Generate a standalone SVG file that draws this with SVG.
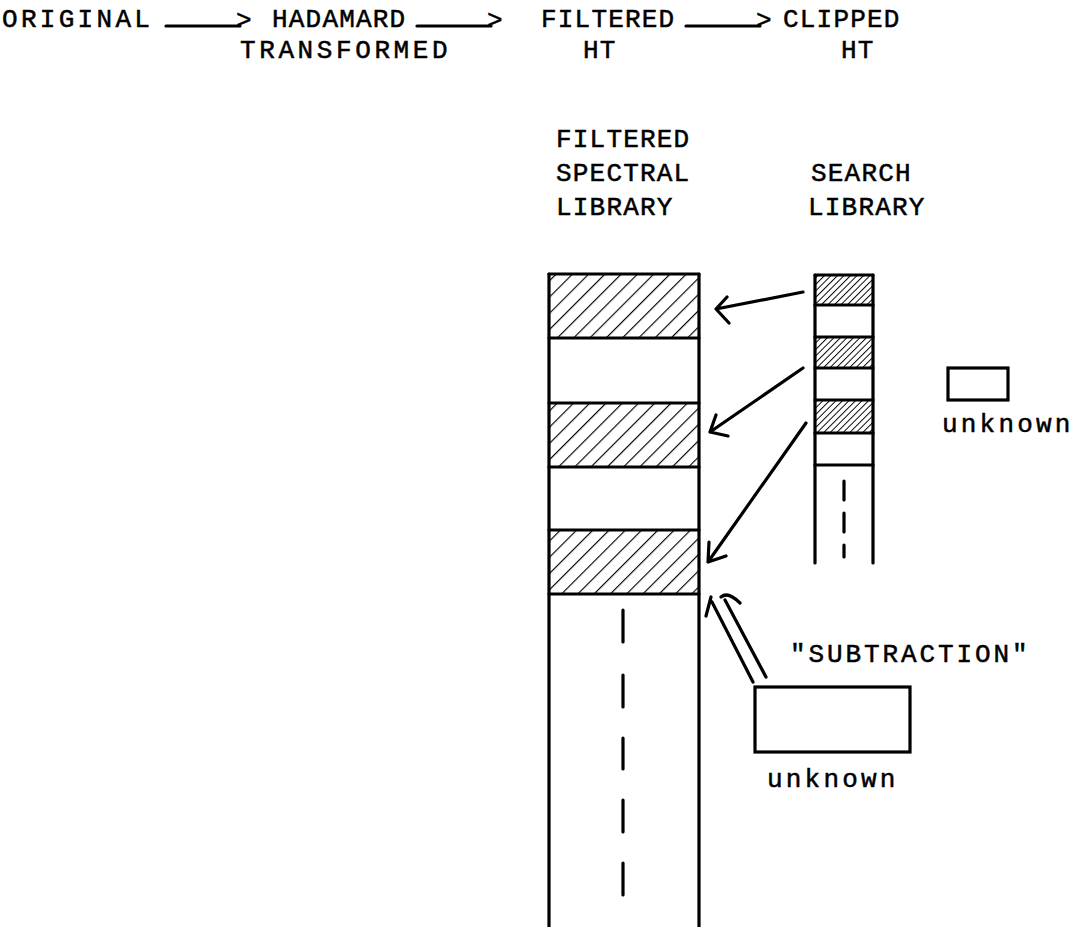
<svg xmlns="http://www.w3.org/2000/svg" width="1079" height="927" viewBox="0 0 1079 927">
<defs>
<style>
text{font-family:"Liberation Mono","DejaVu Sans Mono",monospace;font-size:26px;letter-spacing:1.2px;fill:#000;stroke:#000;stroke-width:0.5px}
.wide{letter-spacing:3.2px}
.ln{stroke:#000;stroke-width:3.2;fill:none;stroke-linecap:round;stroke-linejoin:round}
.box{stroke:#000;stroke-width:3.2;fill:#fff}
</style>
<pattern id="hatchBig" patternUnits="userSpaceOnUse" width="11.5" height="11.5" patternTransform="rotate(45)">
<line x1="0" y1="0" x2="0" y2="11.5" stroke="#000" stroke-width="2.3"/>
</pattern>
<pattern id="hatchSmall" patternUnits="userSpaceOnUse" width="4.6" height="4.6" patternTransform="rotate(45)">
<line x1="0" y1="0" x2="0" y2="4.6" stroke="#000" stroke-width="1.9"/>
</pattern>
</defs>
<rect width="1079" height="927" fill="#fff"/>

<g id="header">
<text x="2" y="27" style="letter-spacing:3.3px">ORIGINAL</text>
<text x="272" y="27">HADAMARD</text>
<text x="240" y="58" style="letter-spacing:3.6px">TRANSFORMED</text>
<text x="541" y="27">FILTERED</text>
<text x="583" y="58">HT</text>
<text x="783" y="27">CLIPPED</text>
<text x="841" y="58">HT</text>
</g>

<g id="header-arrows">
<line class="ln" x1="166" y1="26" x2="240" y2="26"/>
<text x="236" y="28">&gt;</text>
<line class="ln" x1="417" y1="26" x2="491" y2="26"/>
<text x="487" y="28">&gt;</text>
<line class="ln" x1="686" y1="26" x2="760" y2="26"/>
<text x="756" y="28">&gt;</text>
</g>

<g id="filtered-spectral-library">
<text x="556" y="147">FILTERED</text>
<text x="556" y="181">SPECTRAL</text>
<text x="556" y="215">LIBRARY</text>
<rect x="549" y="274" width="150" height="64" fill="url(#hatchBig)"/>
<rect x="549" y="403" width="150" height="64" fill="url(#hatchBig)"/>
<rect x="549" y="530" width="150" height="64" fill="url(#hatchBig)"/>
<path class="ln" d="M549,274 H699 M549,338 H699 M549,403 H699 M549,467 H699 M549,530 H699 M549,594 H699"/>
<path class="ln" d="M549,274 V927 M699,274 V927"/>
<path class="ln" d="M623,610 V642 M623,675 V707 M623,738 V769 M623,800 V832 M623,863 V895"/>
</g>

<g id="search-library">
<text x="811" y="181">SEARCH</text>
<text x="808" y="215">LIBRARY</text>
<rect x="815" y="275" width="58" height="30" fill="url(#hatchSmall)"/>
<rect x="815" y="337" width="58" height="31" fill="url(#hatchSmall)"/>
<rect x="815" y="400" width="58" height="33" fill="url(#hatchSmall)"/>
<path class="ln" d="M815,275 H873 M815,305 H873 M815,337 H873 M815,368 H873 M815,400 H873 M815,433 H873 M815,465 H873"/>
<path class="ln" d="M815,275 V563 M873,275 V563"/>
<path class="ln" d="M844,481 V500 M844,513 V532 M844,545 V557"/>
</g>

<g id="unknown-small">
<rect class="box" x="948" y="368" width="60" height="32"/>
<text class="wide" x="942" y="432">unknown</text>
</g>

<g id="unknown-large">
<text x="790" y="662" style="letter-spacing:2.9px">"SUBTRACTION"</text>
<rect class="box" x="755" y="687" width="155" height="65"/>
<text class="wide" x="767" y="787">unknown</text>
</g>

<g id="connectors">
<path class="ln" d="M803,292 L716,309 M727,297 L716,309 L729,323"/>
<path class="ln" d="M803,368 L710,432 M716,415 L710,432 L728,436"/>
<path class="ln" d="M806,423 L708,562 M709,542 L708,562 L726,556"/>
<path class="ln" d="M753,682 L712,602 M766,677 L725,600 M706,616 L711,597 M721,597 Q728,591 740,603"/>
</g>
</svg>
